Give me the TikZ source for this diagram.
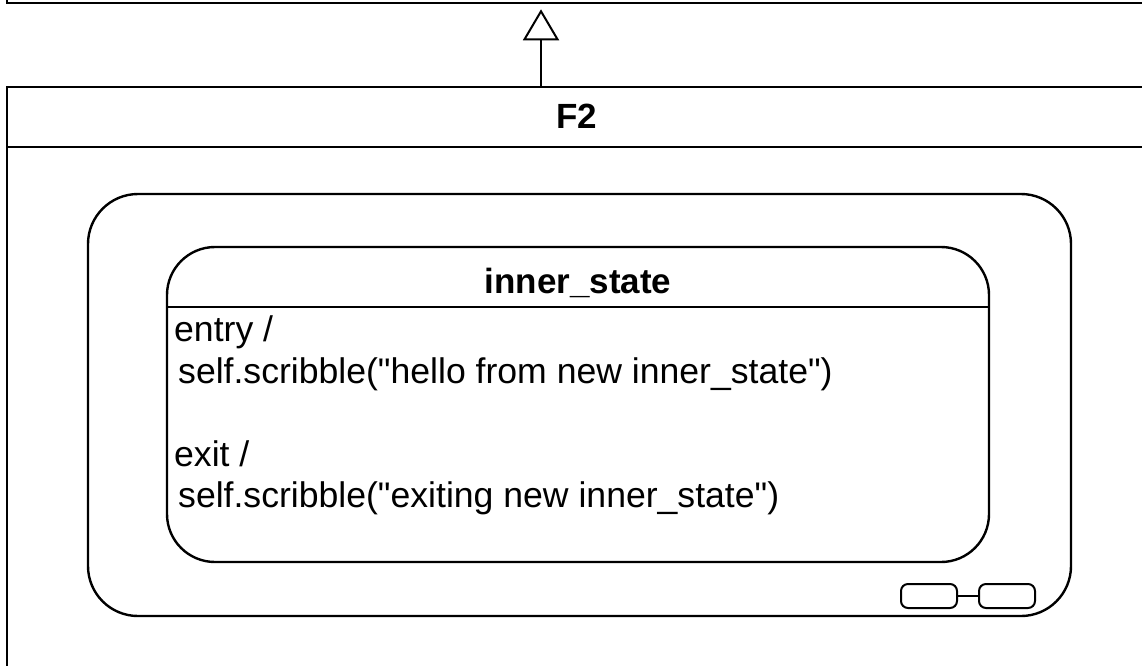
\documentclass[tikz,border=0pt]{standalone}
\usepackage{fontspec}
\setmainfont{Liberation Sans}[Ligatures=TeXOff]
\usetikzlibrary{arrows.meta}
\newcommand{\dq}{\symbol{34}}
\begin{document}
\begin{tikzpicture}[x=1pt,y=-1pt,
  box/.style={draw=black,line width=2.6pt,rectangle,inner sep=0pt},
  statebox/.style={draw=black,line width=2.4pt,rectangle,rounded corners=#1,inner sep=0pt},
  pill/.style={draw=black,line width=2pt,rectangle,rounded corners=7pt,inner sep=0pt,minimum width=56pt,minimum height=24pt},
  title/.style={font=\fontsize{35}{42}\selectfont\bfseries,anchor=base,inner sep=0pt},
  body/.style={font=\fontsize{35.6}{42}\selectfont,anchor=base west,inner sep=0pt}]
\clip (0,0) rectangle (1142,665);
\fill[white] (0,0) rectangle (1142,665);
% parent class box (mostly off the picture)
\node[box,minimum width=1140pt,minimum height=103pt] (parent) at (577,-48.5) {};
% F2 box
\node[box,minimum width=1140pt,minimum height=673pt] (f2) at (577,423.5) {};
\coordinate (f2hl) at (7,147);
\coordinate (f2hr) at (1147,147);
\draw[line width=2.6pt] (f2hl) -- (f2hr);
\node[title] (f2title) at (577,128) {F2};
% generalisation arrow
\draw[line width=2pt,shorten >=5pt,-{Triangle[open,length=31pt,width=36pt,line width=2pt]}] (f2.north -| 541,0) -- (parent.south -| 541,0);
% outer composite state
\node[statebox=50pt,minimum width=983pt,minimum height=422pt] (outer) at (579.5,405) {};
% inner state
\node[statebox=48pt,minimum width=822pt,minimum height=315pt] (inner) at (578,404.5) {};
\coordinate (ihl) at (167,307);
\coordinate (ihr) at (989,307);
\draw[line width=2.4pt] (ihl) -- (ihr);
\node[title] (innertitle) at (578,293) {inner\_state};
\node[body] (l1) at (174,341.7) {entry /};
\node[body] (l2) at (178,383.4) {self.scribble(\dq hello from new inner\_state\dq)};
\node[body] (l3) at (174,466) {exit /};
\node[body] (l4) at (178,507.7) {self.scribble(\dq exiting new inner\_state\dq)};
% composite icon
\node[pill] (p1) at (929,596) {};
\node[pill] (p2) at (1007,596) {};
\draw[line width=2pt] (p1) -- (p2);
\end{tikzpicture}
\end{document}
